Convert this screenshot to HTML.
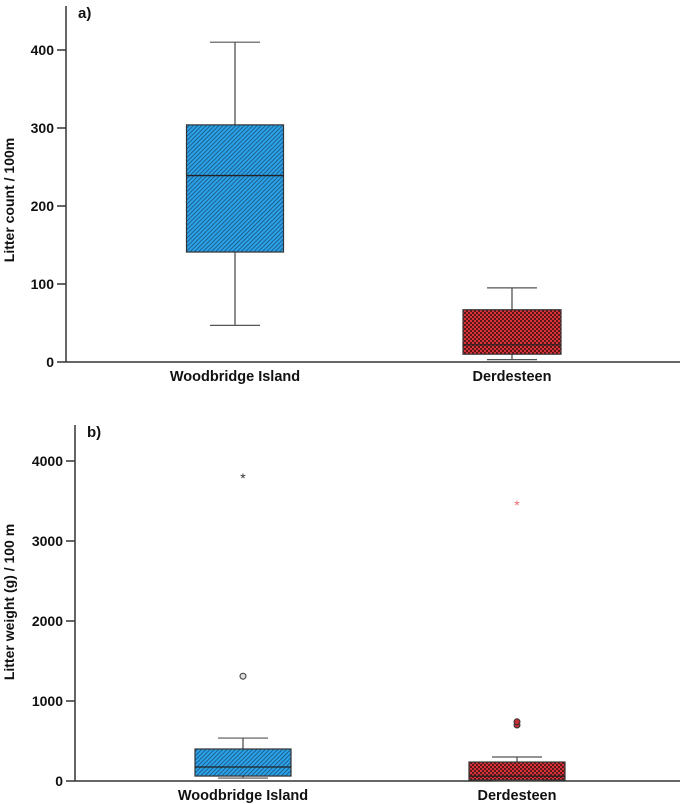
<!DOCTYPE html>
<html><head><meta charset="utf-8"><style>
body{margin:0;background:#fff;}
svg{display:block;font-family:"Liberation Sans",Arial,sans-serif;}
</style></head><body>
<svg id="chart" width="685" height="804" viewBox="0 0 685 804" xmlns="http://www.w3.org/2000/svg">
<defs>
<pattern id="hatch" width="3" height="3" patternUnits="userSpaceOnUse" patternTransform="rotate(45)">
<rect width="3" height="3" fill="#2ba3e8"/><rect width="1" height="3" fill="#1d5e8f"/>
</pattern>
<pattern id="check" width="4" height="4" patternUnits="userSpaceOnUse">
<rect width="4" height="4" fill="#d8343a"/><rect width="2" height="2" fill="#5a1518"/><rect x="2" y="2" width="2" height="2" fill="#5a1518"/>
</pattern>
</defs>
<g id="g"></g>
</svg>
<script>
const categories = ["Woodbridge Island", "Derdesteen"];
// panel a: litter count
const countMin = [47, 3];
const countQ1 = [141, 10];
const countMedian = [239, 22];
const countQ3 = [304, 67];
const countMax = [410, 95];
const countTicks = [0, 100, 200, 300, 400];
// panel b: litter weight
const weightMin = [37, 5];
const weightQ1 = [62, 12];
const weightMedian = [175, 60];
const weightQ3 = [400, 237];
const weightMax = [537, 300];
const weightOutliers = [[1310], [700, 740]];
const weightExtremes = [[3810], [3475]];
const weightTicks = [0, 1000, 2000, 3000, 4000];

const NS = "http://www.w3.org/2000/svg";
const g = document.getElementById('g');
function mk(tag, attrs, parent) {
  const e = document.createElementNS(NS, tag);
  for (const k in attrs) e.setAttribute(k, attrs[k]);
  (parent || g).appendChild(e);
  return e;
}
function txt(s, attrs, name) {
  const t = mk('text', attrs);
  t.textContent = s;
  
  
  return t;
}

const centers = [235, 514];

function panel(cfg) {
  const y = v => cfg.y0 - (v - 0) * cfg.scale;
  const ax = mk('line', {x1: cfg.axX, y1: cfg.axTop, x2: cfg.axX, y2: cfg.y0, stroke: '#333', 'stroke-width': 1.5});
  
  
  const bx = mk('line', {x1: cfg.axX, y1: cfg.y0, x2: 680, y2: cfg.y0, stroke: '#333', 'stroke-width': 1.5});
  
  
  cfg.ticks.forEach(t => {
    const tk = mk('line', {x1: cfg.axX - 9, y1: y(t), x2: cfg.axX, y2: y(t), stroke: '#333', 'stroke-width': 1.5});
    
    
    txt(String(t), {x: cfg.axX - 12, y: y(t) + 5, 'text-anchor': 'end', 'font-size': 14, 'font-weight': 'bold', fill: '#111'}, cfg.id + '-tick-label');
  });
  txt(cfg.title, {transform: `translate(14,${cfg.titleY}) rotate(-90)`, 'text-anchor': 'middle', 'font-size': 14, 'font-weight': 'bold', fill: '#111'}, cfg.id + '-y-axis-title');
  txt(cfg.letter, {x: cfg.axX + 12, y: cfg.axTop + 12, 'font-size': 15, 'font-weight': 'bold', fill: '#111'}, cfg.id + '-panel-label');
  categories.forEach((c, i) => {
    const cx = centers[i] + cfg.dx[i], w = cfg.bw[i];
    const fill = i === 0 ? 'url(#hatch)' : 'url(#check)';
    const wl = mk('line', {x1: cx, y1: y(cfg.max[i]), x2: cx, y2: y(cfg.min[i]), stroke: '#444', 'stroke-width': 1.2});
    
    
    [cfg.max[i], cfg.min[i]].forEach(v => {
      const cap = mk('line', {x1: cx - 25, y1: y(v), x2: cx + 25, y2: y(v), stroke: '#555', 'stroke-width': 1.2});
      
      
    });
    const r = mk('rect', {x: cx - w / 2, y: y(cfg.q3[i]), width: w, height: y(cfg.q1[i]) - y(cfg.q3[i]), fill: fill, stroke: '#333', 'stroke-width': 1.2});
    
    
    const m = mk('line', {x1: cx - w / 2, y1: y(cfg.med[i]), x2: cx + w / 2, y2: y(cfg.med[i]), stroke: '#222', 'stroke-width': 1.3});
    
    
    (cfg.outl ? cfg.outl[i] : []).forEach(v => {
      const o = mk('circle', {cx: cx, cy: y(v), r: 3, fill: i === 0 ? '#ddd' : '#c03036', stroke: '#333', 'stroke-width': 1});
      
      
    });
    (cfg.ext ? cfg.ext[i] : []).forEach(v => {
      txt('*', {x: cx, y: y(v) + 7, 'text-anchor': 'middle', 'font-size': 14, fill: i === 0 ? '#333' : '#f06a70'}, cfg.id + '-extreme-outlier');
    });
    txt(c, {x: cx, y: cfg.y0 + 19, 'text-anchor': 'middle', 'font-size': 14.5, 'font-weight': 'bold', fill: '#111'}, cfg.id + '-category-label');
  });
}

panel({id: 'panel-a', letter: 'a)', title: 'Litter count / 100m', titleY: 200, axX: 66, axTop: 6, y0: 362, scale: 0.78,
  ticks: countTicks, min: countMin, q1: countQ1, med: countMedian, q3: countQ3, max: countMax, dx: [0, -2], bw: [97, 98]});
panel({id: 'panel-b', letter: 'b)', title: 'Litter weight (g) / 100 m', titleY: 602, axX: 75, axTop: 425, y0: 781, scale: 0.08,
  ticks: weightTicks, min: weightMin, q1: weightQ1, med: weightMedian, q3: weightQ3, max: weightMax, outl: weightOutliers, ext: weightExtremes, dx: [8, 3], bw: [96, 96]});
</script>
</body></html>
